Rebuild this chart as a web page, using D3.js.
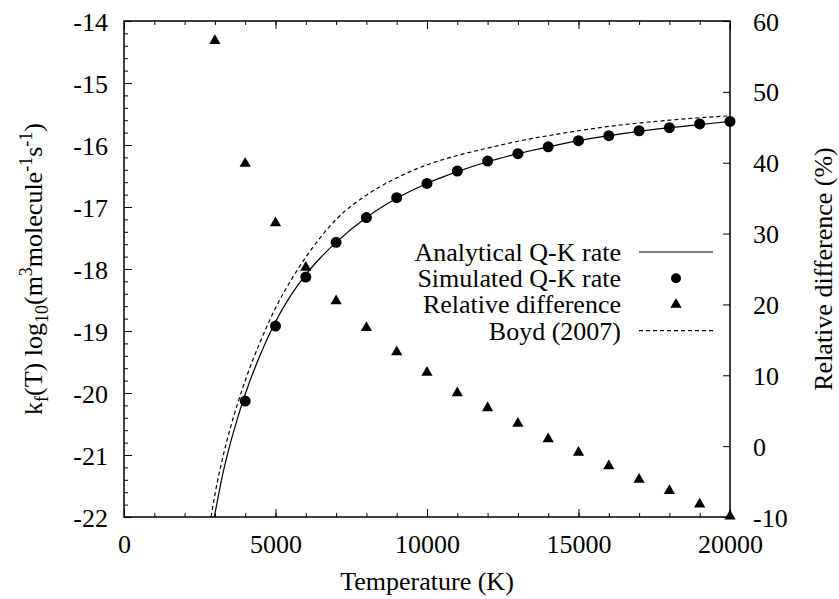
<!DOCTYPE html>
<html>
<head>
<meta charset="utf-8">
<script src="https://cdn.jsdelivr.net/npm/d3@7"></script>
<style>
  html, body { margin: 0; padding: 0; background: #fff; }
  svg { display: block; }
  text { font-family: "Liberation Serif", "Times New Roman", serif; fill: #000; }
</style>
</head>
<body>
<svg id="chart" width="839" height="599"></svg>
<script>
// ---- data ----
const simTemps = [4000, 5000, 6000, 7000, 8000, 9000, 10000, 11000, 12000, 13000, 14000, 15000, 16000, 17000, 18000, 19000, 20000];
const simRate = [-20.13, -18.92, -18.13, -17.57, -17.17, -16.85, -16.62, -16.42, -16.26, -16.14, -16.03, -15.93, -15.85, -15.77, -15.72, -15.66, -15.62];

const relTemps = [3000, 4000, 5000, 6000, 7000, 8000, 9000, 10000, 11000, 12000, 13000, 14000, 15000, 16000, 17000, 18000, 19000, 20000];
const relDiff = [57.2, 39.9, 31.5, 25.2, 20.5, 16.7, 13.3, 10.4, 7.5, 5.4, 3.2, 1.0, -0.9, -2.8, -4.7, -6.3, -8.2, -9.9];

const analyticTemps = [2980, 3000, 3250, 3500, 3750, 4000, 4500, 5000, 5500, 6000, 6500, 7000, 8000, 9000, 10000, 11000, 12000, 13000, 14000, 15000, 16000, 17000, 18000, 19000, 20000];
const analyticRate = [-22.0, -21.95, -21.33, -20.83, -20.40, -20.02, -19.38, -18.85, -18.43, -18.09, -17.81, -17.57, -17.17, -16.86, -16.62, -16.43, -16.27, -16.14, -16.03, -15.93, -15.85, -15.78, -15.72, -15.67, -15.62];

const boydTemps = [2871, 3000, 3250, 3500, 3750, 4000, 4500, 5000, 5500, 6000, 6500, 7000, 8000, 9000, 10000, 11000, 12000, 13000, 14000, 15000, 16000, 17000, 18000, 19000, 20000];
const boydRate = [-22.0, -21.64, -21.06, -20.58, -20.17, -19.80, -19.17, -18.63, -18.19, -17.81, -17.48, -17.20, -16.81, -16.53, -16.32, -16.17, -16.05, -15.94, -15.85, -15.77, -15.70, -15.645, -15.60, -15.56, -15.53];

const xTicks = [0, 5000, 10000, 15000, 20000];
const yLeftTicks = [-22, -21, -20, -19, -18, -17, -16, -15, -14];
const yRightTicks = [-10, 0, 10, 20, 30, 40, 50, 60];

const legendItems = ["Analytical Q-K rate", "Simulated Q-K rate", "Relative difference", "Boyd (2007)"];

// ---- layout ----
const L = 124, R = 730, T = 21, B = 517;
const svg = d3.select("#chart");
const FS = 26;

const x = d3.scaleLinear().domain([0, 20000]).range([L, R]);
const yL = d3.scaleLinear().domain([-22, -14]).range([B, T]);
const yR = d3.scaleLinear().domain([-10, 60]).range([B, T]);

const minorX = d3.range(0, 20001, 1000);
const minorY = d3.range(-22, -13.99, 0.2).map(v => +v.toFixed(1));

function styleAxis(g) {
  g.select(".domain").remove();
  g.selectAll(".tick line").attr("stroke", "#000").attr("stroke-width", 1);
  g.selectAll("text").attr("font-family", "Liberation Serif, serif").attr("font-size", FS).attr("fill", "#000");
}

// bottom
svg.append("g").attr("transform", `translate(0,${B})`)
  .call(d3.axisBottom(x).tickValues(minorX).tickSize(-4).tickSizeOuter(0).tickFormat(""))
  .call(styleAxis);
svg.append("g").attr("transform", `translate(0,${B})`)
  .call(d3.axisBottom(x).tickValues(xTicks).tickSize(-8).tickSizeOuter(0).tickFormat(d3.format("d")))
  .call(styleAxis)
  .call(g => g.selectAll("text").attr("y", 36).attr("dy", 0));
// top
svg.append("g").attr("transform", `translate(0,${T})`)
  .call(d3.axisTop(x).tickValues(minorX).tickSize(-4).tickSizeOuter(0).tickFormat(""))
  .call(styleAxis);
svg.append("g").attr("transform", `translate(0,${T})`)
  .call(d3.axisTop(x).tickValues(xTicks).tickSize(-8).tickSizeOuter(0).tickFormat(""))
  .call(styleAxis);
// left
svg.append("g").attr("transform", `translate(${L},0)`)
  .call(d3.axisLeft(yL).tickValues(minorY).tickSize(-4).tickSizeOuter(0).tickFormat(""))
  .call(styleAxis);
svg.append("g").attr("transform", `translate(${L},0)`)
  .call(d3.axisLeft(yL).tickValues(yLeftTicks).tickSize(-8).tickSizeOuter(0).tickFormat(d => d < 0 ? "-" + Math.abs(d) : d))
  .call(styleAxis)
  .call(g => g.selectAll("text").attr("x", -16).attr("dy", 9));
// right
svg.append("g").attr("transform", `translate(${R},0)`)
  .call(d3.axisRight(yR).tickValues(yRightTicks).tickSize(-7).tickSizeOuter(0).tickFormat(d => d < 0 ? "-" + Math.abs(d) : d))
  .call(styleAxis)
  .call(g => g.selectAll("text").attr("x", 23).attr("dy", 9));

// frame
svg.append("rect").attr("x", L).attr("y", T).attr("width", R - L).attr("height", B - T)
  .attr("fill", "none").attr("stroke", "#000").attr("stroke-width", 1.5);

// clip
svg.append("clipPath").attr("id", "clip").append("rect")
  .attr("x", L).attr("y", T).attr("width", R - L).attr("height", B - T);

const plot = svg.append("g").attr("clip-path", "url(#clip)");

const lineA = d3.line().x((d, i) => x(analyticTemps[i])).y(d => yL(d)).curve(d3.curveMonotoneX);
const lineB = d3.line().x((d, i) => x(boydTemps[i])).y(d => yL(d)).curve(d3.curveMonotoneX);

plot.append("path").attr("d", lineB(boydRate)).attr("fill", "none").attr("stroke", "#000")
  .attr("stroke-width", 1.2).attr("stroke-dasharray", "4,3");
plot.append("path").attr("d", lineA(analyticRate)).attr("fill", "none").attr("stroke", "#000")
  .attr("stroke-width", 1.2);

svg.append("g").selectAll("circle").data(simRate).join("circle")
  .attr("cx", (d, i) => x(simTemps[i])).attr("cy", d => yL(d)).attr("r", 5.5).attr("fill", "#000");

const tri = d3.symbol().type(d3.symbolTriangle).size(55);
svg.append("g").selectAll("path").data(relDiff).join("path")
  .attr("d", tri)
  .attr("transform", (d, i) => `translate(${x(relTemps[i])},${yR(d)})`)
  .attr("fill", "#000");

// legend
const legRows = [252, 278.2, 304.4, 330.6];
const leg = svg.append("g");
legendItems.forEach((t, i) => {
  leg.append("text").attr("x", 621).attr("y", legRows[i] + 9).attr("text-anchor", "end")
    .attr("font-size", FS).text(t);
});
leg.append("line").attr("x1", 639).attr("x2", 713).attr("y1", legRows[0]).attr("y2", legRows[0])
  .attr("stroke", "#000").attr("stroke-width", 1.2);
leg.append("circle").attr("cx", 676).attr("cy", legRows[1]).attr("r", 5).attr("fill", "#000");
leg.append("path").attr("d", tri).attr("transform", `translate(676,${legRows[2]})`).attr("fill", "#000");
leg.append("line").attr("x1", 639).attr("x2", 713).attr("y1", legRows[3]).attr("y2", legRows[3])
  .attr("stroke", "#000").attr("stroke-width", 1.2).attr("stroke-dasharray", "4,3");

// axis titles
svg.append("text").attr("x", (L + R) / 2).attr("y", 590).attr("text-anchor", "middle")
  .attr("font-size", FS).text("Temperature (K)");

const yt = svg.append("text").attr("transform", `translate(42,${(T + B) / 2}) rotate(-90)`)
  .attr("text-anchor", "middle").attr("font-size", FS);
const SS = 18;
yt.append("tspan").text("k");
yt.append("tspan").attr("font-size", SS).attr("dy", 6).text("f");
yt.append("tspan").attr("dy", -6).text("(T) log");
yt.append("tspan").attr("font-size", SS).attr("dy", 6).text("10");
yt.append("tspan").attr("dy", -6).text("(m");
yt.append("tspan").attr("font-size", SS).attr("dy", -10).text("3");
yt.append("tspan").attr("dy", 10).text("molecule");
yt.append("tspan").attr("font-size", SS).attr("dy", -10).text("-1");
yt.append("tspan").attr("dy", 10).text("s");
yt.append("tspan").attr("font-size", SS).attr("dy", -10).text("-1");
yt.append("tspan").attr("dy", 10).text(")");

svg.append("text").attr("transform", `translate(832,${(T + B) / 2}) rotate(-90)`)
  .attr("text-anchor", "middle").attr("font-size", FS).text("Relative difference (%)");
</script>
</body>
</html>
